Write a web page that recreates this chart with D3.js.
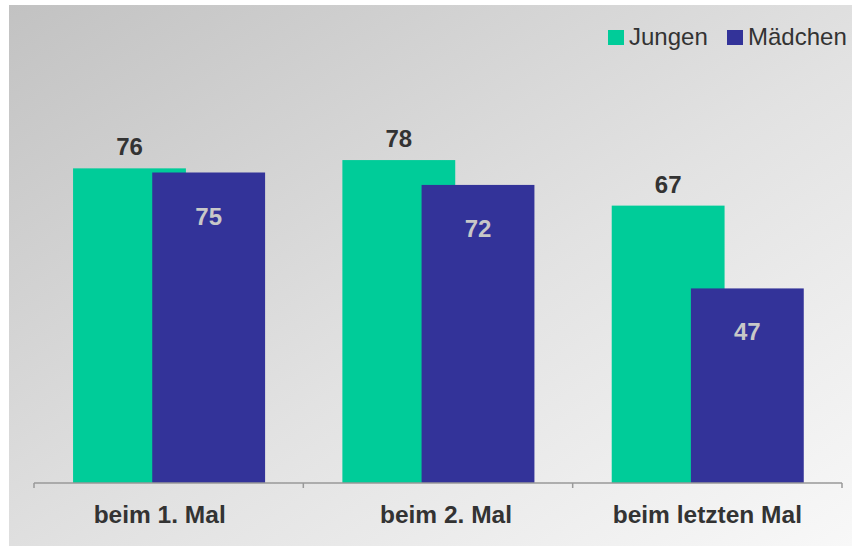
<!DOCTYPE html>
<html>
<head>
<meta charset="utf-8">
<script src="https://cdn.jsdelivr.net/npm/d3@7"></script>
<style>
  body { margin: 0; background: #fff; }
  svg { display: block; }
</style>
</head>
<body>
<div id="chart"></div>
<script>
const categories = ["beim 1. Mal", "beim 2. Mal", "beim letzten Mal"];
const seriesNames = ["Jungen", "Mädchen"];
const jungen = [76, 78, 67];
const maedchen = [75, 72, 47];
const colors = ["#00CC99", "#333399"];

// small horizontal nudges of the category labels, as in the original slide
const catNudge = [-9, 8, 0];

const W = 852, H = 546;
const margin = { top: 69, right: 10, bottom: 63, left: 34 };
const width = W - margin.left - margin.right;
const height = H - margin.top - margin.bottom;

const svg = d3.select("#chart").append("svg")
  .attr("width", W)
  .attr("height", H);

// background panel with diagonal gradient
const defs = svg.append("defs");
const grad = defs.append("linearGradient")
  .attr("id", "bg")
  .attr("x1", "0%").attr("y1", "0%")
  .attr("x2", "100%").attr("y2", "100%");
grad.append("stop").attr("offset", "0%").attr("stop-color", "#C2C2C2");
grad.append("stop").attr("offset", "55%").attr("stop-color", "#E2E2E2");
grad.append("stop").attr("offset", "100%").attr("stop-color", "#F8F8F8");

svg.append("rect")
  .attr("x", 9).attr("y", 5)
  .attr("width", W - 9).attr("height", H - 5)
  .attr("fill", "url(#bg)");

const g = svg.append("g")
  .attr("transform", `translate(${margin.left},${margin.top})`);

const x = d3.scaleBand()
  .domain(categories)
  .range([0, width])
  .paddingInner(0)
  .paddingOuter(0);

const y = d3.scaleLinear()
  .domain([0, 100])
  .range([height, 0]);

// inner layout of the two overlapping bars
const band = x.bandwidth();
const barW = band * 0.419;
const sideGap = band * 0.145;
const offset = band * 0.294;

const data = categories.map((c, i) => ({ cat: c, j: jungen[i], m: maedchen[i] }));

// Jungen bars (behind)
g.selectAll(".bar-j")
  .data(data)
  .enter()
  .append("rect")
  .attr("class", "bar-j")
  .attr("x", (d) => x(d.cat) + sideGap)
  .attr("y", (d) => y(d.j))
  .attr("width", barW)
  .attr("height", (d) => height - y(d.j))
  .attr("fill", colors[0]);

// Mädchen bars (in front)
g.selectAll(".bar-m")
  .data(data)
  .enter()
  .append("rect")
  .attr("class", "bar-m")
  .attr("x", (d) => x(d.cat) + sideGap + offset)
  .attr("y", (d) => y(d.m))
  .attr("width", barW)
  .attr("height", (d) => height - y(d.m))
  .attr("fill", colors[1]);

// value labels
g.selectAll(".lab-j")
  .data(data)
  .enter()
  .append("text")
  .attr("x", (d) => x(d.cat) + sideGap + barW / 2)
  .attr("y", (d) => y(d.j) - 13)
  .attr("text-anchor", "middle")
  .style("font-family", "'Liberation Sans', Arial, sans-serif")
  .style("font-size", "24px")
  .style("font-weight", "bold")
  .style("fill", "#333333")
  .text((d) => d.j);

g.selectAll(".lab-m")
  .data(data)
  .enter()
  .append("text")
  .attr("x", (d) => x(d.cat) + sideGap + offset + barW / 2)
  .attr("y", (d) => y(d.m) + 52)
  .attr("text-anchor", "middle")
  .style("font-family", "'Liberation Sans', Arial, sans-serif")
  .style("font-size", "24px")
  .style("font-weight", "bold")
  .style("fill", "#C8C8C8")
  .text((d) => d.m);

// x axis
const xAxis = g.append("g")
  .attr("transform", `translate(0,${height})`);

xAxis.append("line")
  .attr("x1", 0).attr("x2", width)
  .attr("y1", 0).attr("y2", 0)
  .attr("stroke", "#999999")
  .attr("stroke-width", 1.5);

xAxis.selectAll(".tick")
  .data(d3.range(categories.length + 1))
  .enter()
  .append("line")
  .attr("x1", (i) => i * band)
  .attr("x2", (i) => i * band)
  .attr("y1", 0).attr("y2", 5)
  .attr("stroke", "#999999")
  .attr("stroke-width", 1.5);

xAxis.selectAll(".cat")
  .data(categories)
  .enter()
  .append("text")
  .attr("x", (d, i) => x(d) + band / 2 + catNudge[i])
  .attr("y", 40)
  .attr("text-anchor", "middle")
  .style("font-family", "'Liberation Sans', Arial, sans-serif")
  .style("font-size", "24.5px")
  .style("font-weight", "bold")
  .style("fill", "#333333")
  .text((d) => d);

// legend
const legend = svg.append("g");
const legendX = [608, 727];
seriesNames.forEach((name, i) => {
  legend.append("rect")
    .attr("x", legendX[i]).attr("y", 30)
    .attr("width", 16).attr("height", 15)
    .attr("fill", colors[i]);
  legend.append("text")
    .attr("x", legendX[i] + 21)
    .attr("y", 45)
    .style("font-family", "'Liberation Sans', Arial, sans-serif")
    .style("font-size", "24px")
    .style("fill", "#333333")
    .text(name);
});
</script>
</body>
</html>
